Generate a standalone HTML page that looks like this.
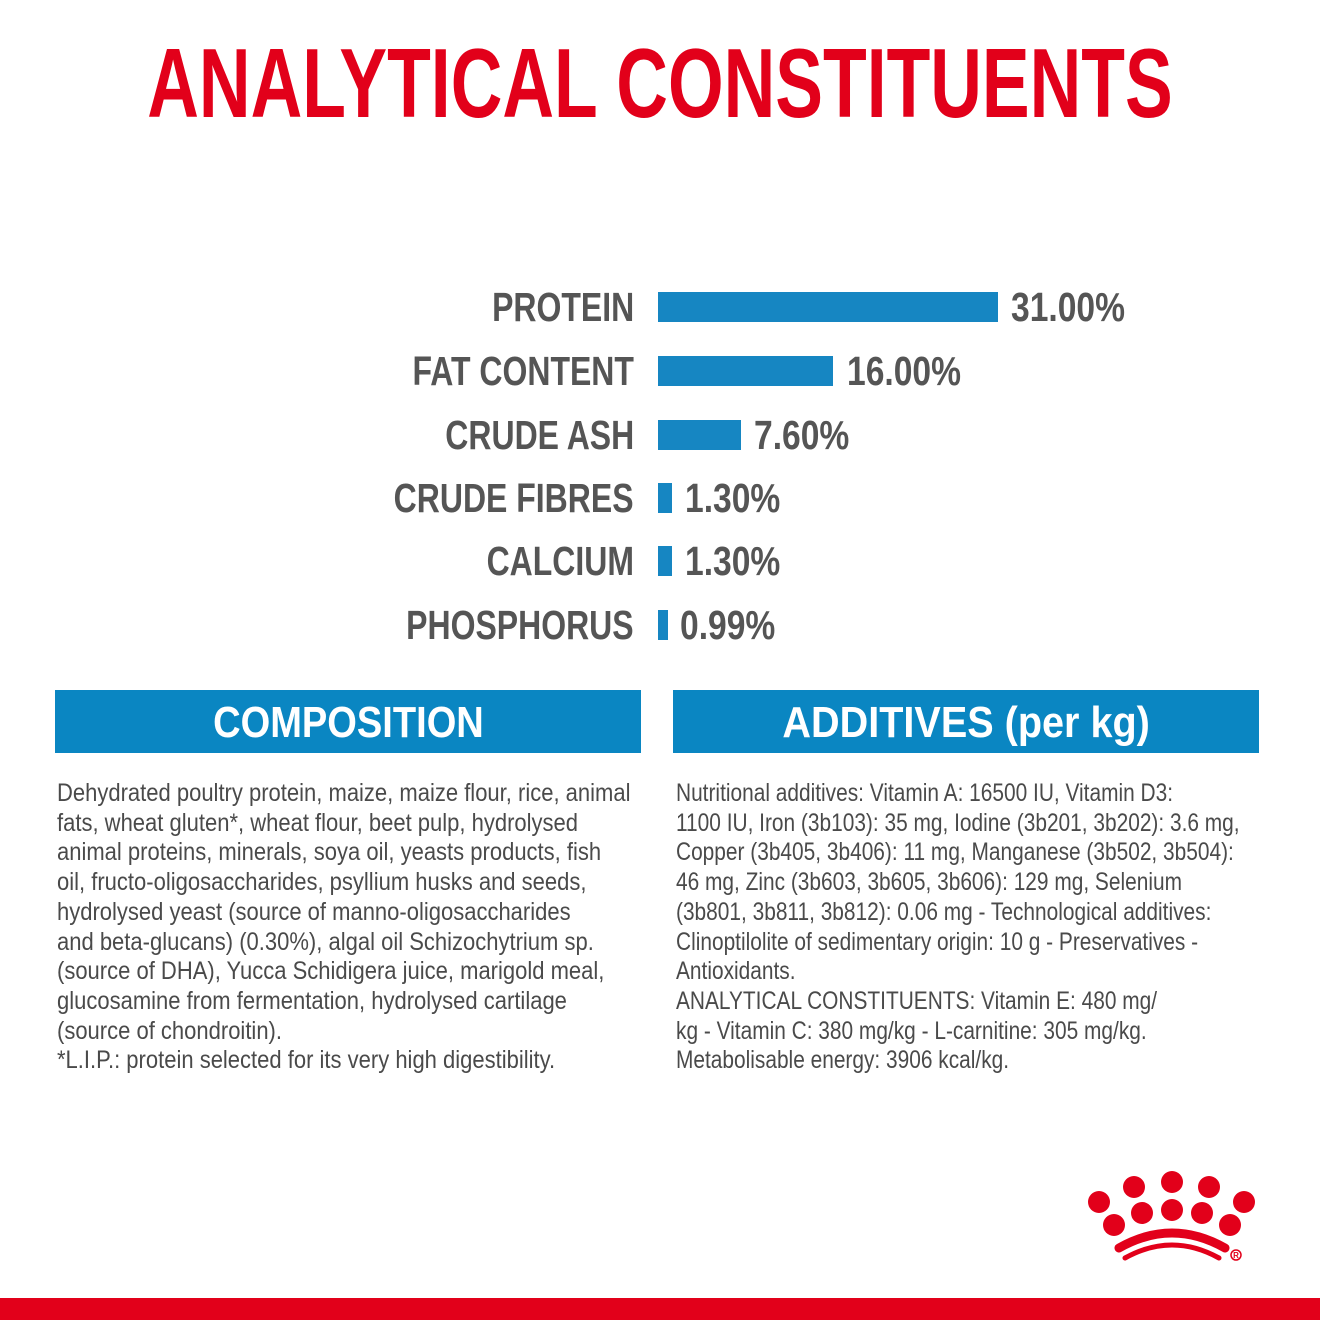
<!DOCTYPE html>
<html><head><meta charset="utf-8"><style>
body{margin:0;width:1320px;height:1320px;background:#fff;position:relative;overflow:hidden;font-family:"Liberation Sans",sans-serif}
.a{position:absolute;white-space:nowrap}
.t{left:660px;top:28px;font-size:98px;font-weight:bold;color:#e2001a;line-height:110px;transform:translateX(-50%) scaleX(0.73)}
.lab{right:686px;font-size:41px;font-weight:bold;color:#555;line-height:40px;transform:scaleX(0.78);transform-origin:right center}
.val{font-size:41px;font-weight:bold;color:#555;line-height:40px;transform:scaleX(0.82);transform-origin:left center}
.bar{position:absolute;left:658px;background:#1686c2;height:30px}
.hd{position:absolute;top:690px;height:63px;width:586px;background:#0a86c2;color:#fff;font-weight:bold;font-size:44px;line-height:66px;text-align:center}
.hd span{display:inline-block}
.tx{font-size:25px;color:#4a4a4a;line-height:29.7px;transform-origin:left top}
.red{position:absolute;left:0;top:1298px;width:1320px;height:22px;background:#e2001a}
</style></head><body>
<div class="a t">ANALYTICAL CONSTITUENTS</div>

<div class="a lab" style="top:287px">PROTEIN</div>
<div class="bar" style="top:292px;width:340px"></div>
<div class="a val" style="left:1011px;top:287px">31.00%</div>

<div class="a lab" style="top:351px">FAT CONTENT</div>
<div class="bar" style="top:356px;width:175px"></div>
<div class="a val" style="left:847px;top:351px">16.00%</div>

<div class="a lab" style="top:415px">CRUDE ASH</div>
<div class="bar" style="top:420px;width:83px"></div>
<div class="a val" style="left:754px;top:415px">7.60%</div>

<div class="a lab" style="top:478px">CRUDE FIBRES</div>
<div class="bar" style="top:483px;width:14px"></div>
<div class="a val" style="left:685px;top:478px">1.30%</div>

<div class="a lab" style="top:541px">CALCIUM</div>
<div class="bar" style="top:546px;width:14px"></div>
<div class="a val" style="left:685px;top:541px">1.30%</div>

<div class="a lab" style="top:605px">PHOSPHORUS</div>
<div class="bar" style="top:610px;width:10px"></div>
<div class="a val" style="left:680px;top:605px">0.99%</div>

<div class="hd" style="left:55px"><span style="transform:scaleX(0.865)">COMPOSITION</span></div>
<div class="hd" style="left:673px"><span style="transform:scaleX(0.9)">ADDITIVES (per kg)</span></div>

<div class="a tx" style="left:57px;top:779px;transform:scaleX(0.88)">Dehydrated poultry protein, maize, maize flour, rice, animal<br>fats, wheat gluten*, wheat flour, beet pulp, hydrolysed<br>animal proteins, minerals, soya oil, yeasts products, fish<br>oil, fructo-oligosaccharides, psyllium husks and seeds,<br>hydrolysed yeast (source of manno-oligosaccharides<br>and beta-glucans) (0.30%), algal oil Schizochytrium sp.<br>(source of DHA), Yucca Schidigera juice, marigold meal,<br>glucosamine from fermentation, hydrolysed cartilage<br>(source of chondroitin).<br>*L.I.P.: protein selected for its very high digestibility.</div>

<div class="a tx" style="left:676px;top:779px;transform:scaleX(0.835)">Nutritional additives: Vitamin A: 16500 IU, Vitamin D3:<br>1100 IU, Iron (3b103): 35 mg, Iodine (3b201, 3b202): 3.6 mg,<br>Copper (3b405, 3b406): 11 mg, Manganese (3b502, 3b504):<br>46 mg, Zinc (3b603, 3b605, 3b606): 129 mg, Selenium<br>(3b801, 3b811, 3b812): 0.06 mg - Technological additives:<br>Clinoptilolite of sedimentary origin: 10 g - Preservatives -<br>Antioxidants.<br>ANALYTICAL CONSTITUENTS: Vitamin E: 480 mg/<br>kg - Vitamin C: 380 mg/kg - L-carnitine: 305 mg/kg.<br>Metabolisable energy: 3906 kcal/kg.</div>

<svg class="a" style="left:0;top:0" width="1320" height="1320">
<g fill="#e2001a">
<circle cx="1099" cy="1202" r="11"/><circle cx="1134" cy="1187" r="11"/><circle cx="1172" cy="1182" r="11"/><circle cx="1209" cy="1187" r="11"/><circle cx="1244" cy="1202" r="11"/>
<circle cx="1114" cy="1225" r="11"/><circle cx="1142" cy="1213" r="11"/><circle cx="1172" cy="1210" r="11"/><circle cx="1202" cy="1213" r="11"/><circle cx="1230" cy="1225" r="11"/>
</g>
<path d="M1119 1248 Q1172 1218 1225 1248" stroke="#e2001a" stroke-width="9" fill="none" stroke-linecap="round"/>
<path d="M1125 1258 Q1172 1232 1219 1258" stroke="#e2001a" stroke-width="5" fill="none" stroke-linecap="round"/>
<circle cx="1236" cy="1255" r="5" fill="none" stroke="#e2001a" stroke-width="1.5"/>
<text x="1236" y="1258" font-size="8" font-weight="bold" fill="#e2001a" text-anchor="middle" font-family="Liberation Sans">R</text>
</svg>
<div class="red"></div>
</body></html>
